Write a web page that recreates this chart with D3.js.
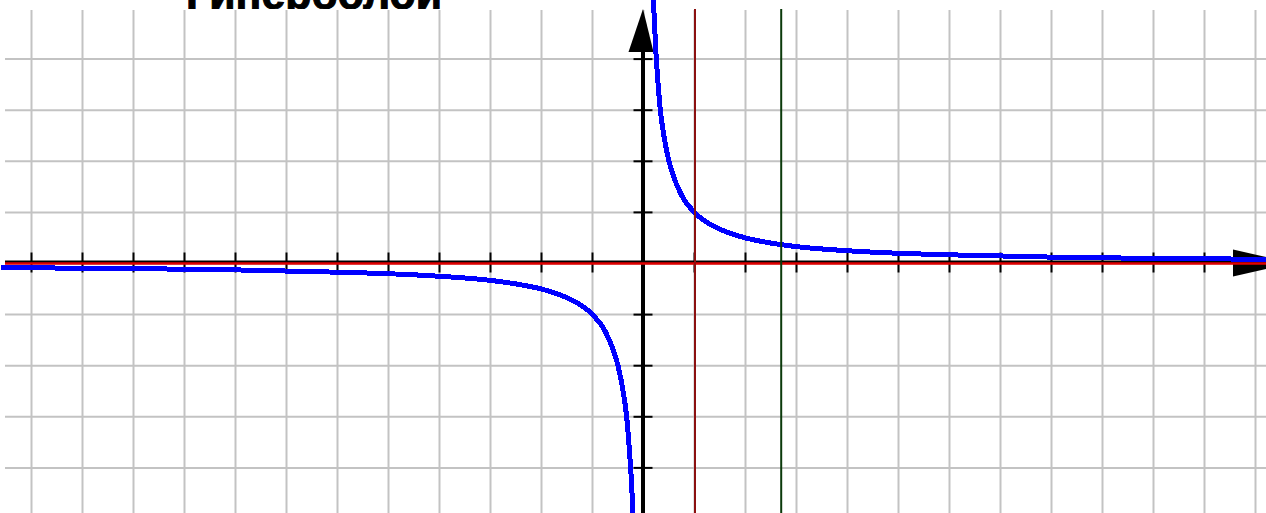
<!DOCTYPE html>
<meta charset="utf-8">
<style>
body { margin: 0; background: #fff; }
svg { display: block; }
.grid line { stroke: #c3c3c3; stroke-width: 2px; }
.ticks line { stroke: #000; stroke-width: 2px; }
</style>
<body>
<svg width="1266" height="513" id="chart"></svg>
<script src="https://d3js.org/d3.v7.min.js"></script>
<script>

// grid / tick positions (units)
var gridX = [-12,-11,-10,-9,-8,-7,-6,-5,-4,-3,-2,-1,0,1,2,3,4,5,6,7,8,9,10,11,12];
var gridY = [-4,-3,-2,-1,0,1,2,3,4];

// hyperbola branches
var rightX = [0.19, 0.21, 0.24, 0.28, 0.33, 0.4, 0.5, 0.6, 0.75, 1, 1.25, 1.5, 2, 2.5, 3, 4, 5, 6, 8, 10, 12.5];
var rightY = [5.3, 4.8, 4.2, 3.6, 3.0, 2.5, 2.0, 1.67, 1.33, 1.0, 0.8, 0.67, 0.5, 0.4, 0.33, 0.25, 0.2, 0.17, 0.125, 0.1, 0.08];
var leftX = [-12.6, -10, -8, -6, -5, -4, -3, -2.5, -2, -1.5, -1.25, -1, -0.75, -0.6, -0.5, -0.4, -0.33, -0.28, -0.24, -0.2];
var leftY = [-0.08, -0.1, -0.125, -0.17, -0.2, -0.25, -0.33, -0.4, -0.5, -0.67, -0.8, -1, -1.33, -1.67, -2, -2.5, -3, -3.6, -4.2, -5];

// marker lines
var redX = 1;
var greenX = 2.7;
var title = "Гиперболой";

var svg = d3.select("svg"),
    width = +svg.attr("width"),
    height = +svg.attr("height");

var x = d3.scaleLinear().domain([-12, 12]).range([643.5 - 612, 643.5 + 612]);
var y = d3.scaleLinear().domain([-4, 4]).range([263.5 + 204.4, 263.5 - 204.4]);

// title sits behind the plot picture, only its bottom shows
svg.append("text")
    .attr("x", 186)
    .attr("y", 8.5)
    .attr("font-family", "Liberation Sans, Arial, sans-serif")
    .attr("font-weight", "bold")
    .attr("font-size", 44)
    .attr("textLength", 256)
    .attr("lengthAdjust", "spacingAndGlyphs")
    .attr("fill", "#000")
    .attr("stroke", "#000")
    .attr("stroke-width", 1)
    .text(title);

svg.append("rect")
    .attr("x", 0).attr("y", 9)
    .attr("width", width).attr("height", height)
    .attr("fill", "#fff");

// grid
var grid = svg.append("g").attr("class", "grid");
grid.selectAll(".gx")
    .data(gridX)
    .enter().append("line")
    .attr("x1", d => x(d)).attr("x2", d => x(d))
    .attr("y1", 10).attr("y2", height);
grid.selectAll(".gy")
    .data(gridY)
    .enter().append("line")
    .attr("y1", d => y(d)).attr("y2", d => y(d))
    .attr("x1", 5).attr("x2", width);

// axes
var axes = svg.append("g");
axes.append("line")
    .attr("x1", 5).attr("x2", 1236)
    .attr("y1", y(0) - 1.5).attr("y2", y(0) - 1.5)
    .attr("stroke", "#000").attr("stroke-width", 3);
axes.append("path")
    .attr("d", "M1233," + (y(0) - 14) + "L1292," + (y(0) - 0.5) + "L1233," + (y(0) + 13) + "Z")
    .attr("fill", "#000");
axes.append("line")
    .attr("x1", x(0) - 0.5).attr("x2", x(0) - 0.5)
    .attr("y1", 50).attr("y2", height)
    .attr("stroke", "#000").attr("stroke-width", 4);
axes.append("path")
    .attr("d", "M" + (x(0) - 15) + ",52L" + (x(0) - 0.5) + ",9L" + (x(0) + 10) + ",52Z")
    .attr("fill", "#000");

var ticks = svg.append("g").attr("class", "ticks");
ticks.selectAll(".tx")
    .data(gridX.filter(d => d !== 0 && d !== 12))
    .enter().append("line")
    .attr("x1", d => x(d)).attr("x2", d => x(d))
    .attr("y1", y(0) - 11).attr("y2", y(0) + 9);
ticks.selectAll(".ty")
    .data(gridY.filter(d => d !== 0))
    .enter().append("line")
    .attr("y1", d => y(d)).attr("y2", d => y(d))
    .attr("x1", x(0) - 10).attr("x2", x(0) + 9);

// red asymptote over the x axis
svg.append("line")
    .attr("x1", 5).attr("x2", width)
    .attr("y1", y(0)).attr("y2", y(0))
    .attr("stroke", "#e00000").attr("stroke-width", 2.5);

// hyperbola
var line = d3.line()
    .x(d => x(d[0]))
    .y(d => y(d[1]))
    .curve(d3.curveMonotoneX);

var branches = [d3.zip(leftX, leftY), d3.zip(rightX, rightY)];
svg.selectAll(".branch")
    .data(branches)
    .enter().append("path")
    .attr("class", "branch")
    .attr("d", line)
    .attr("fill", "none")
    .attr("stroke", "#0000ff")
    .attr("stroke-width", 5)
    .attr("shape-rendering", "crispEdges");

// vertical markers
svg.append("line")
    .attr("x1", x(redX) + 0.5).attr("x2", x(redX) + 0.5)
    .attr("y1", 9).attr("y2", height)
    .attr("stroke", "#8b1010").attr("stroke-width", 2);
svg.append("line")
    .attr("x1", x(greenX)).attr("x2", x(greenX))
    .attr("y1", 9).attr("y2", height)
    .attr("stroke", "#0b3a0b").attr("stroke-width", 2);

</script>
</body>
